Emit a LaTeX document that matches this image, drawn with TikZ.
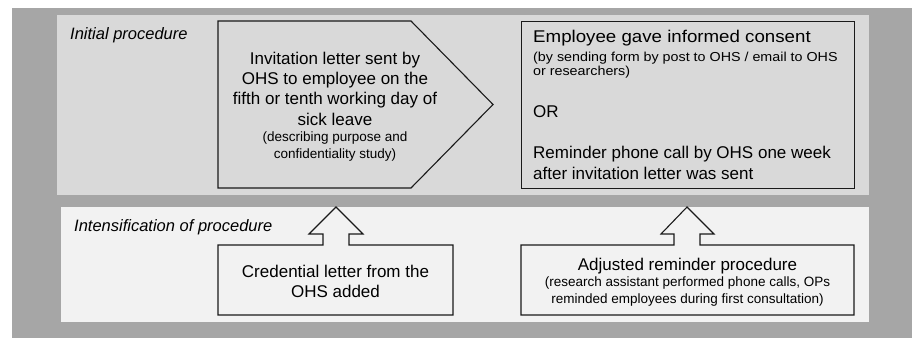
\documentclass[tikz,border=0pt]{standalone}
\usepackage{fontspec}
\setmainfont{Liberation Sans}
\newfontfamily\widesans[FakeStretch=1.1]{Liberation Sans}
\definecolor{outergray}{HTML}{A6A6A6}
\definecolor{toppanel}{HTML}{D9D9D9}
\definecolor{botpanel}{HTML}{F2F2F2}
\definecolor{edge}{HTML}{1A1A1A}
\tikzset{
  shapeline/.style={draw=edge, line width=1.1pt, line join=miter},
  big/.style={font=\fontsize{17}{20}\selectfont, inner sep=0pt},
  small/.style={font=\fontsize{13.5}{16.5}\selectfont, inner sep=0pt},
  tiny/.style={font=\widesans\fontsize{13}{14}\selectfont, inner sep=0pt},
  panellabel/.style={font=\fontsize{16.5}{19}\selectfont\itshape, inner sep=0pt, anchor=base west},
}
\begin{document}
\begin{tikzpicture}[x=1pt,y=-1pt]
\useasboundingbox (0,0) rectangle (912,341);
% backgrounds
\fill[outergray] (12,8) rectangle (912,338);
\fill[toppanel] (57,15) rectangle (869,195);
\fill[botpanel] (61,207) rectangle (869,322);
% panel labels
\node[panellabel] (lab1) at (70,39) {Initial procedure};
\node[panellabel] (lab2) at (74,231) {Intensification of procedure};
% pentagon
\draw[shapeline, fill=toppanel] (218,21) -- (411,21) -- (493,104.5) -- (411,188) -- (218,188) -- cycle;
\node[big, align=center, anchor=base, font=\fontsize{17}{20.2}\selectfont] (inv) at (335,125) {Invitation letter sent by\\OHS to employee on the\\fifth or tenth working day of\\sick leave};
\node[small, align=center, anchor=base] (invsub) at (335,158) {(describing purpose and\\confidentiality study)};
% consent box
\node[shapeline, fill=toppanel, minimum width=333pt, minimum height=167pt, anchor=north west, inner sep=0pt] (cons) at (521,21) {};
\node[big, anchor=base west, font=\widesans\fontsize{17}{20}\selectfont] (c1) at (533,42.5) {Employee gave informed consent};
\node[tiny, align=left, anchor=base west] (c2) at (533,75) {(by sending form by post to OHS / email to OHS\\or researchers)};
\node[big, anchor=base west] (c3) at (533,117) {OR};
\node[big, align=left, anchor=base west, font=\fontsize{17}{21}\selectfont] (c4) at (533,179) {Reminder phone call by OHS one week\\after invitation letter was sent};
% credential box with arrow
\coordinate (tipA) at (336,207);
\draw[shapeline, fill=botpanel] (218,245) -- (323,245) -- (323,234) -- (309,234) -- (tipA) -- (363,234) -- (349,234) -- (349,245) -- (453,245) -- (453,315) -- (218,315) -- cycle;
\node[big, align=center, anchor=base] (cred) at (335.5,297) {Credential letter from the\\OHS added};
% adjusted reminder box with arrow
\coordinate (tipB) at (687,207);
\draw[shapeline, fill=botpanel] (521,245) -- (674,245) -- (674,234) -- (661,234) -- (tipB) -- (714,234) -- (700,234) -- (700,245) -- (854,245) -- (854,315) -- (521,315) -- cycle;
\node[big, anchor=base] (adj) at (687.5,270) {Adjusted reminder procedure};
\node[small, align=center, anchor=base] (adjsub) at (687.5,303) {(research assistant performed phone calls, OPs\\reminded employees during first consultation)};
\end{tikzpicture}
\end{document}
